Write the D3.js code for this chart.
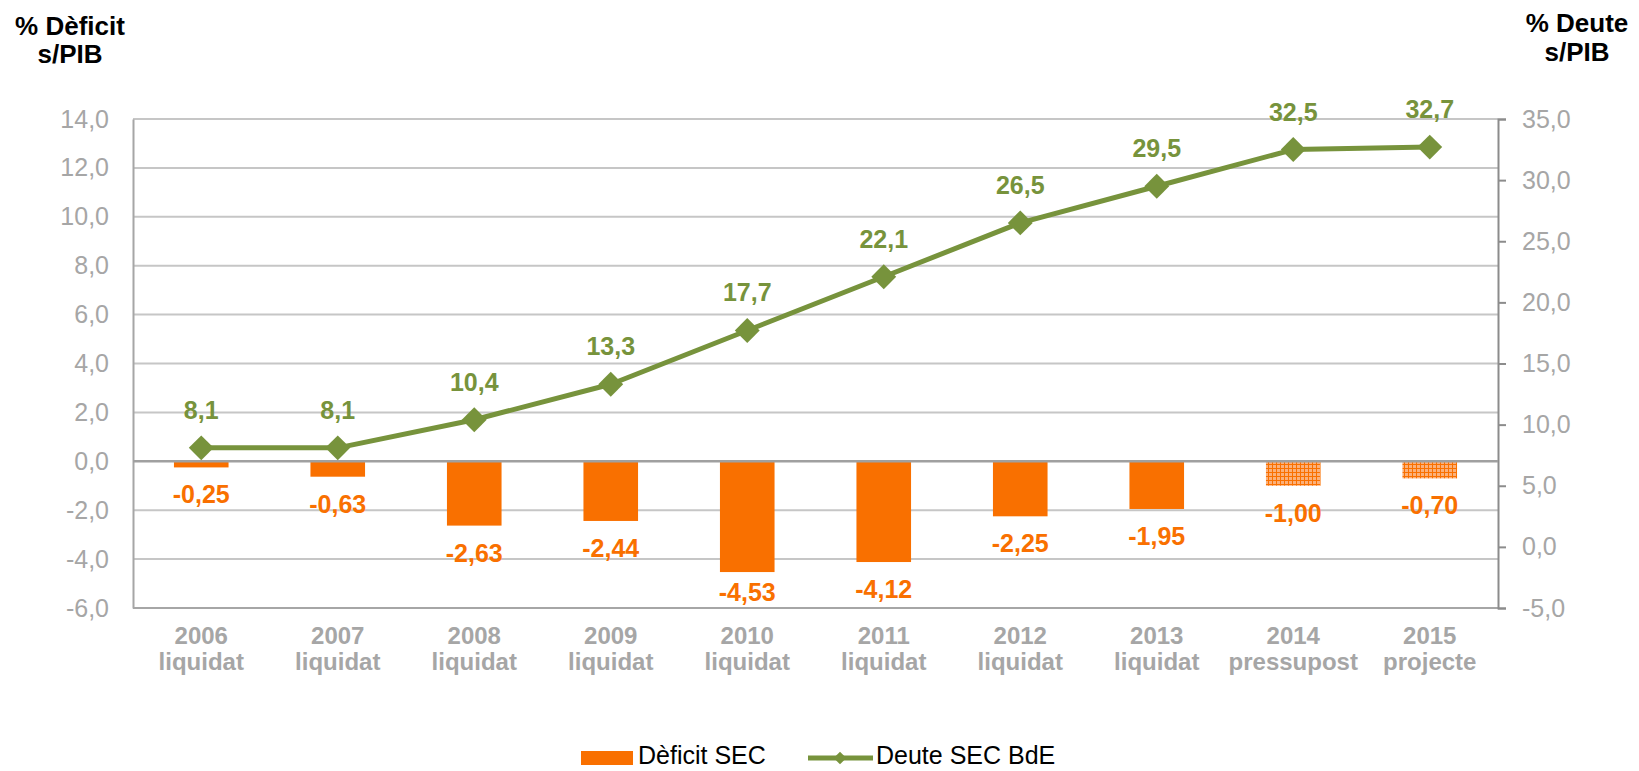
<!DOCTYPE html>
<html>
<head>
<meta charset="utf-8">
<script src="https://cdn.jsdelivr.net/npm/d3@7"></script>
<style>
  html, body { margin: 0; padding: 0; background: #fff; }
  svg { display: block; font-family: "Liberation Sans", Arial, sans-serif; }
</style>
</head>
<body>
<svg id="chart" width="1639" height="771"></svg>
<script>
const years = ["2006", "2007", "2008", "2009", "2010", "2011", "2012", "2013", "2014", "2015"];
const status = ["liquidat", "liquidat", "liquidat", "liquidat", "liquidat", "liquidat", "liquidat", "liquidat", "pressupost", "projecte"];
const deficit = [-0.25, -0.63, -2.63, -2.44, -4.53, -4.12, -2.25, -1.95, -1.00, -0.70];
const debt = [8.1, 8.1, 10.4, 13.3, 17.7, 22.1, 26.5, 29.5, 32.5, 32.7];
const patterned = [false, false, false, false, false, false, false, false, true, true];
const leftTicks = [-6, -4, -2, 0, 2, 4, 6, 8, 10, 12, 14];
const rightTicks = [-5, 0, 5, 10, 15, 20, 25, 30, 35];
const seriesNames = ["Dèficit SEC", "Deute SEC BdE"];

(function () {
const ORANGE = "#F97000";
const GREEN = "#77933C";
const GRAY_TXT = "#A6A6A6";

const svg = d3.select("#chart");
const pLeft = 133, pRight = 1498, pTop = 119, pBottom = 608;

const x = d3.scaleBand().domain(years).range([pLeft, pRight]).paddingInner(0.6).paddingOuter(0.3);
const yL = d3.scaleLinear().domain([-6, 14]).range([pBottom, pTop]);
const yR = d3.scaleLinear().domain([-5, 35]).range([pBottom, pTop]);
const cx = d => x(d) + x.bandwidth() / 2;
const fmt1 = v => d3.format(".1f")(v).replace(".", ",").replace("\u2212", "-");
const fmt2 = v => d3.format(".2f")(v).replace(".", ",").replace("\u2212", "-");

const defs = svg.append("defs");
const pat = defs.append("pattern").attr("id", "hatch").attr("patternUnits", "userSpaceOnUse")
  .attr("width", 4).attr("height", 4);
pat.append("rect").attr("width", 4).attr("height", 4).attr("fill", "#FBB07A");
pat.append("rect").attr("x", 0).attr("y", 0).attr("width", 4).attr("height", 1).attr("fill", ORANGE);
pat.append("rect").attr("x", 0).attr("y", 0).attr("width", 1).attr("height", 4).attr("fill", ORANGE);

svg.append("g").selectAll("line").data(leftTicks.filter(t => t !== 0 && t !== -6)).join("line")
  .attr("x1", pLeft).attr("x2", pRight)
  .attr("y1", d => yL(d)).attr("y2", d => yL(d))
  .attr("stroke", "#C6C6C6").attr("stroke-width", 2);

const gL = svg.append("g").attr("transform", `translate(${pLeft},0)`)
  .call(d3.axisLeft(yL).tickValues(leftTicks).tickSize(0).tickPadding(24).tickFormat(fmt1));
gL.select(".domain").attr("stroke", "#A6A6A6").attr("stroke-width", 2);
gL.selectAll("text").attr("fill", GRAY_TXT).attr("font-size", 25).attr("font-family", "Liberation Sans, Arial, sans-serif");

svg.append("line").attr("x1", pLeft).attr("x2", pRight).attr("y1", pBottom).attr("y2", pBottom)
  .attr("stroke", "#A6A6A6").attr("stroke-width", 2);

const gR = svg.append("g").attr("transform", `translate(${pRight},0)`)
  .call(d3.axisRight(yR).tickValues(rightTicks).tickSize(8).tickPadding(16).tickFormat(fmt1));
gR.select(".domain").attr("stroke", "#8C8C8C").attr("stroke-width", 2);
gR.selectAll(".tick line").attr("stroke", "#8C8C8C").attr("stroke-width", 2);
gR.selectAll("text").attr("fill", GRAY_TXT).attr("font-size", 25).attr("font-family", "Liberation Sans, Arial, sans-serif");

svg.append("g").selectAll("rect").data(years).join("rect")
  .attr("x", d => x(d))
  .attr("width", x.bandwidth())
  .attr("y", (d, i) => yL(Math.max(0, deficit[i])))
  .attr("height", (d, i) => Math.abs(yL(deficit[i]) - yL(0)))
  .attr("fill", (d, i) => patterned[i] ? "url(#hatch)" : ORANGE);

svg.append("line").attr("x1", pLeft).attr("x2", pRight).attr("y1", yL(0)).attr("y2", yL(0))
  .attr("stroke", "#A0A0A0").attr("stroke-width", 2.5);

svg.append("g").selectAll("text").data(years).join("text")
  .attr("x", d => cx(d))
  .attr("y", (d, i) => Math.min(yL(deficit[i]) + 36, pBottom - 7))
  .attr("text-anchor", "middle")
  .attr("font-size", 25).attr("font-weight", "bold").attr("fill", ORANGE)
  .text((d, i) => fmt2(deficit[i]));

const line = d3.line().x(d => cx(d.year)).y(d => yR(d.v));
const pts = years.map((y, i) => ({ year: y, v: debt[i] }));
svg.append("path").datum(pts).attr("d", line)
  .attr("fill", "none").attr("stroke", GREEN).attr("stroke-width", 5).attr("stroke-linejoin", "round");

const diamond = d3.symbol().type(d3.symbolSquare).size(310);
svg.append("g").selectAll("path").data(pts).join("path")
  .attr("d", diamond)
  .attr("transform", d => `translate(${cx(d.year)},${yR(d.v)}) rotate(45)`)
  .attr("fill", GREEN);

svg.append("g").selectAll("text").data(pts).join("text")
  .attr("x", d => cx(d.year))
  .attr("y", d => yR(d.v) - 29)
  .attr("text-anchor", "middle")
  .attr("font-size", 25).attr("font-weight", "bold").attr("fill", GREEN)
  .text(d => fmt1(d.v));

const xl = svg.append("g").selectAll("text").data(years).join("text")
  .attr("x", d => cx(d)).attr("y", 644)
  .attr("text-anchor", "middle")
  .attr("font-size", 24).attr("font-weight", "bold").attr("fill", GRAY_TXT);
xl.append("tspan").attr("x", d => cx(d)).text(d => d);
xl.append("tspan").attr("x", d => cx(d)).attr("dy", 26).text((d, i) => status[i]);

const tL = svg.append("text").attr("text-anchor", "middle").attr("font-size", 26)
  .attr("font-weight", "bold").attr("fill", "#000");
tL.append("tspan").attr("x", 70).attr("y", 35).text("% Dèficit");
tL.append("tspan").attr("x", 70).attr("y", 63).text("s/PIB");
const tR = svg.append("text").attr("text-anchor", "middle").attr("font-size", 26)
  .attr("font-weight", "bold").attr("fill", "#000");
tR.append("tspan").attr("x", 1577).attr("y", 32).text("% Deute");
tR.append("tspan").attr("x", 1577).attr("y", 61).text("s/PIB");

const lg = svg.append("g");
lg.append("rect").attr("x", 581).attr("y", 751).attr("width", 52).attr("height", 14).attr("fill", ORANGE);
lg.append("text").attr("x", 638).attr("y", 764).attr("font-size", 25).attr("fill", "#000").text(seriesNames[0]);
lg.append("line").attr("x1", 808).attr("x2", 873).attr("y1", 758).attr("y2", 758)
  .attr("stroke", GREEN).attr("stroke-width", 5);
lg.append("path").attr("d", d3.symbol().type(d3.symbolSquare).size(80))
  .attr("transform", "translate(840,758) rotate(45)").attr("fill", GREEN);
lg.append("text").attr("x", 876).attr("y", 764).attr("font-size", 25).attr("fill", "#000").text(seriesNames[1]);
})();
</script>
</body>
</html>
